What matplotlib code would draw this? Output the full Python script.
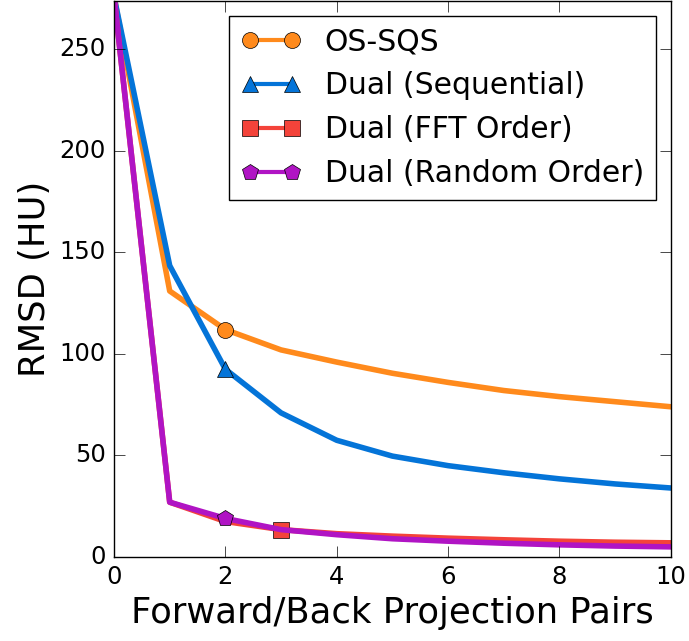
import numpy as np
import matplotlib
matplotlib.use('Agg')
import matplotlib.pyplot as plt

iters = [0, 1, 2, 3, 4, 5, 6, 7, 8, 9, 10]
os_sqs = [276, 131, 112, 102, 96, 90.5, 86, 82, 79, 76.5, 74]
dual_seq = [276, 143.5, 92.5, 71, 57.5, 49.7, 45, 41.5, 38.5, 36, 34]
dual_fft = [276, 27, 17.5, 13.5, 11.5, 10.3, 9.3, 8.5, 7.8, 7.3, 7]
dual_rand = [276, 27, 19, 13.5, 11, 9, 7.8, 6.8, 6, 5.4, 5]

plt.style.use('classic')
plt.rcParams['figure.facecolor'] = 'white'
plt.rcParams['savefig.facecolor'] = 'white'

fig = plt.figure(figsize=(6.89, 6.41), dpi=100)
ax = fig.add_axes([0.1655, 0.131, 0.808, 0.868])

ax.plot(iters, os_sqs, color='#ff8a1c', lw=4, marker='o', ms=11.5, markevery=[2], label='OS-SQS')
ax.plot(iters, dual_seq, color='#0474d8', lw=4, marker='^', ms=11.5, markevery=[2], label='Dual (Sequential)')
ax.plot(iters, dual_fft, color='#f4433a', lw=4, marker='s', ms=11, markevery=[3], label='Dual (FFT Order)')
ax.plot(iters, dual_rand, color='#b014c4', lw=4, marker='p', ms=12, markevery=[2], label='Dual (Random Order)')

ax.set_xlim(0, 10)
ax.set_ylim(0, 274)
ax.set_yticks([0, 50, 100, 150, 200, 250])
ax.tick_params(labelsize=17.5, length=8, pad=6)
ax.set_xlabel('Forward/Back Projection Pairs', fontsize=25.5)
ax.set_ylabel('RMSD (HU)', fontsize=25.5)

leg = ax.legend(loc='upper right', numpoints=2, fontsize=21.5)
for ln in leg.get_lines():
    ln.set_linewidth(3)

fig.savefig('out.png', dpi=100)
